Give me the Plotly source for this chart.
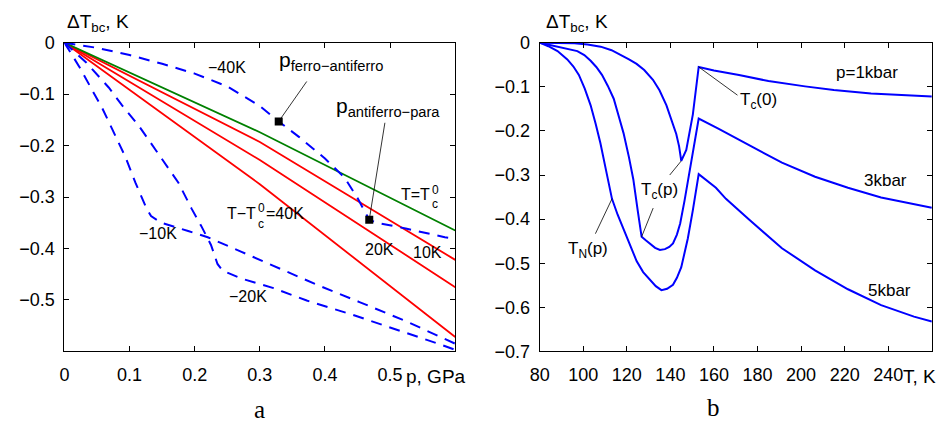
import plotly.graph_objects as go

W, H = 946, 428

# ---------------- panel a: dT_bc vs pressure ----------------
p_line = [0.0, 0.3, 0.6]
dT_tc0 = [0.0, -0.174, -0.365]      # T = Tc0
dT_p10 = [0.0, -0.193, -0.422]      # T - Tc0 = 10 K
dT_p20 = [0.0, -0.228, -0.475]      # T - Tc0 = 20 K
dT_p40 = [0.0, -0.275, -0.572]      # T - Tc0 = 40 K

p_m40 = [0, 0.05, 0.1, 0.15, 0.2, 0.25, 0.3, 0.329, 0.36, 0.4, 0.43, 0.45, 0.468, 0.48, 0.524, 0.584, 0.6]
dT_m40 = [0, -0.010, -0.024, -0.041, -0.060, -0.085, -0.123, -0.153, -0.183, -0.225, -0.262, -0.302, -0.344, -0.350, -0.361, -0.378, -0.381]

p_m10 = [0, 0.023, 0.043, 0.058, 0.073, 0.094, 0.109, 0.126, 0.133, 0.149, 0.19, 0.22, 0.271, 0.321, 0.387, 0.453, 0.524, 0.6]
dT_m10 = [0, -0.047, -0.093, -0.127, -0.167, -0.223, -0.272, -0.322, -0.337, -0.350, -0.366, -0.378, -0.406, -0.433, -0.470, -0.504, -0.541, -0.585]

p_m20 = [0, 0.033, 0.068, 0.088, 0.114, 0.134, 0.154, 0.175, 0.195, 0.21, 0.225, 0.235, 0.243, 0.271, 0.321, 0.372, 0.443, 0.503, 0.574, 0.6]
dT_m20 = [0, -0.038, -0.087, -0.121, -0.161, -0.198, -0.235, -0.272, -0.322, -0.356, -0.393, -0.430, -0.443, -0.458, -0.477, -0.501, -0.529, -0.554, -0.585, -0.597]

# transition points on the -40 K curve
p_trans = [0.329, 0.468]
dT_trans = [-0.153, -0.344]

xa_ticks = [0, 0.1, 0.2, 0.3, 0.4, 0.5]
xa_labels = ["0", "0.1", "0.2", "0.3", "0.4", "0.5"]
ya_ticks = [0, -0.1, -0.2, -0.3, -0.4, -0.5]
ya_labels = ["0", "\u22120.1", "\u22120.2", "\u22120.3", "\u22120.4", "\u22120.5"]

# ---------------- panel b: dT_bc vs temperature ----------------
T_1k = [80, 90, 96, 102, 108, 113, 117, 121, 124.5, 128, 132, 135, 138.2, 140.5, 142.7, 144, 145,
        147.3, 150.3, 153, 160, 171.5, 185, 201.8, 215, 232.1, 245, 260]
dT_1k = [0, -0.0005, -0.0015, -0.004, -0.009, -0.017, -0.027, -0.038, -0.048, -0.062, -0.084, -0.108,
         -0.142, -0.173, -0.207, -0.235, -0.268, -0.243, -0.163, -0.055, -0.063, -0.073, -0.087,
         -0.099, -0.107, -0.115, -0.119, -0.122]

T_3k = [80, 85, 88.2, 93, 97.3, 100.5, 103.4, 106, 108.6, 111.3, 114, 116.5, 118.5, 121, 123, 125,
        126.8, 128.7, 130.6, 133, 135.2, 137.5, 139.5, 141.2, 143, 144.5, 146.5, 148.8, 150.3, 151.7,
        153, 162, 173, 191.2, 206.4, 221.5, 236.7, 251.8, 260]
dT_3k = [0, -0.005, -0.009, -0.014, -0.019, -0.028, -0.041, -0.055, -0.073, -0.098, -0.127, -0.170,
         -0.205, -0.260, -0.310, -0.380, -0.440, -0.448, -0.455, -0.465, -0.470, -0.468, -0.463,
         -0.455, -0.435, -0.410, -0.358, -0.290, -0.250, -0.210, -0.172, -0.195, -0.224, -0.272,
         -0.304, -0.329, -0.351, -0.367, -0.374]

T_5k = [80, 84, 88.2, 92.7, 95.5, 98, 100.7, 103.4, 105.7, 107.9, 110.5, 113.2, 115.8, 118.5, 121.5,
        124.5, 127.5, 130.6, 133.3, 135.9, 138.5, 141.2, 143, 145, 148, 150.3, 151.1, 153, 160.9,
        165.5, 176.1, 191.2, 206.4, 221.5, 236.7, 251.8, 260]
dT_5k = [0, -0.008, -0.019, -0.038, -0.054, -0.073, -0.104, -0.142, -0.184, -0.228, -0.290, -0.354,
         -0.390, -0.423, -0.460, -0.495, -0.520, -0.538, -0.552, -0.561, -0.558, -0.549, -0.533,
         -0.509, -0.444, -0.380, -0.358, -0.298, -0.329, -0.354, -0.401, -0.466, -0.516, -0.559,
         -0.595, -0.621, -0.632]

xb_ticks = [80, 100, 120, 140, 160, 180, 200, 220, 240]
xb_labels = [str(v) for v in xb_ticks]
yb_ticks = [0, -0.1, -0.2, -0.3, -0.4, -0.5, -0.6, -0.7]
yb_labels = ["0"] + ["\u22120.%d" % k for k in range(1, 8)]

BLUE, RED, GREEN = "#0000ff", "#ff0000", "#008000"
FONT = "Liberation Sans, Arial, Helvetica, sans-serif"
SERIF = "Liberation Serif, Times New Roman, serif"


def px(x):
    return x / W


def py(y):
    return 1 - y / H


fig = go.Figure()

# panel a traces
for vals, col in [(dT_p40, RED), (dT_p20, RED), (dT_p10, RED), (dT_tc0, GREEN)]:
    fig.add_trace(go.Scatter(x=p_line, y=vals, mode="lines", line=dict(color=col, width=1.8),
                             xaxis="x", yaxis="y", showlegend=False, hoverinfo="skip"))
for xs, ys in [(p_m10, dT_m10), (p_m20, dT_m20), (p_m40, dT_m40)]:
    fig.add_trace(go.Scatter(x=xs, y=ys, mode="lines",
                             line=dict(color=BLUE, width=2, dash="11px,8px"),
                             xaxis="x", yaxis="y", showlegend=False, hoverinfo="skip"))
fig.add_trace(go.Scatter(x=p_trans, y=dT_trans, mode="markers",
                         marker=dict(symbol="square", size=8, color="black"),
                         xaxis="x", yaxis="y", showlegend=False, hoverinfo="skip"))

# panel b traces
for xs, ys in [(T_1k, dT_1k), (T_3k, dT_3k), (T_5k, dT_5k)]:
    fig.add_trace(go.Scatter(x=xs, y=ys, mode="lines", line=dict(color=BLUE, width=2),
                             xaxis="x2", yaxis="y2", showlegend=False, hoverinfo="skip"))

axis_common = dict(showline=True, linecolor="black", linewidth=1, mirror="allticks",
                   ticks="inside", ticklen=5, tickcolor="black", tickwidth=1,
                   showgrid=False, zeroline=False,
                   tickfont=dict(family=FONT, size=18, color="black"))

ytop, ybot = 34.3, 358.2
fig.update_layout(
    width=W, height=H,
    margin=dict(l=0, r=0, t=0, b=0),
    paper_bgcolor="white", plot_bgcolor="white",
    xaxis=dict(domain=[px(55), px(450)], range=[0, 0.6], tickvals=xa_ticks, ticktext=xa_labels,
               anchor="y", ticklabelstandoff=7, **axis_common),
    yaxis=dict(domain=[py(ybot), py(ytop)], range=[-0.6, 0], tickvals=ya_ticks, ticktext=ya_labels,
               anchor="x", ticklabelstandoff=5, **axis_common),
    xaxis2=dict(domain=[px(535.3), px(931.7)], range=[80, 260], tickvals=xb_ticks, ticktext=xb_labels,
                anchor="y2", ticklabelstandoff=7, **axis_common),
    yaxis2=dict(domain=[py(ybot), py(ytop)], range=[-0.7, 0], tickvals=yb_ticks, ticktext=yb_labels,
                anchor="x2", ticklabelstandoff=5, **axis_common),
)

anns = []


def label(text, x, y, xref, yref, size=16, xanchor="center", yanchor="middle", family=FONT):
    anns.append(dict(text=text, x=x, y=y, xref=xref, yref=yref, showarrow=False,
                     xanchor=xanchor, yanchor=yanchor,
                     font=dict(family=family, size=size, color="black")))


# axis titles and panel letters
label("\u0394T<sub>bc</sub>, K", px(56), py(14), "paper", "paper", size=19, xanchor="left")
label("\u0394T<sub>bc</sub>, K", px(540), py(14), "paper", "paper", size=19, xanchor="left")
label("p, GPa", px(398), py(384), "paper", "paper", size=19, xanchor="left")
label("T, K", px(901), py(384), "paper", "paper", size=19, xanchor="left")
label("a", px(252.5), py(419), "paper", "paper", size=25, family=SERIF)
label("b", px(711), py(417), "paper", "paper", size=25, family=SERIF)

# panel a curve labels
label("p<sub>ferro\u2212antiferro</sub>", 0.326, -0.036, "x", "y", size=21, xanchor="left")
label("p<sub>antiferro\u2212para</sub>", 0.414, -0.124, "x", "y", size=21, xanchor="left")
label("\u221240K", 0.249, -0.0476, "x", "y")
label("T=T", 0.5645, -0.2957, "x", "y", xanchor="right")
label("0", 0.5695, -0.2865, "x", "y", size=12)
label("c", 0.5695, -0.314, "x", "y", size=12)
label("T\u2212T", 0.2974, -0.3328, "x", "y", xanchor="right")
label("0", 0.3025, -0.3207, "x", "y", size=12)
label("c", 0.3025, -0.353, "x", "y", size=12)
label("=40K", 0.307, -0.3328, "x", "y", xanchor="left")
label("20K", 0.484, -0.401, "x", "y")
label("10K", 0.558, -0.407, "x", "y")
label("\u221210K", 0.143, -0.370, "x", "y")
label("\u221220K", 0.282, -0.494, "x", "y")

# panel b curve labels
label("p=1kbar", 230.3, -0.068, "x2", "y2", size=17)
label("T<sub>c</sub>(0)", 171.0, -0.133, "x2", "y2", size=17, xanchor="left")
label("3kbar", 238.5, -0.3125, "x2", "y2", size=17)
label("T<sub>c</sub>(p)", 125.5, -0.337, "x2", "y2", size=17, xanchor="left")
label("T<sub>N</sub>(p)", 92.0, -0.470, "x2", "y2", size=17, xanchor="left")
label("5kbar", 240.6, -0.561, "x2", "y2", size=17)

fig.update_layout(annotations=anns)

# leader lines from labels to the marked points
leaders = [
    ("x", "y", p_trans[0], dT_trans[0], 0.372, -0.0754),
    ("x", "y", p_trans[1], dT_trans[1], 0.492, -0.1556),
    ("x2", "y2", T_1k[19], dT_1k[19], 170.8, -0.119),
    ("x2", "y2", T_1k[16], dT_1k[16], 139.7, -0.300),
    ("x2", "y2", T_3k[16], dT_3k[16], 132.1, -0.375),
    ("x2", "y2", T_5k[11], dT_5k[11], 105.6, -0.433),
]
for xr, yr, x0, y0, x1, y1 in leaders:
    fig.add_shape(type="line", xref=xr, yref=yr, x0=x0, y0=y0, x1=x1, y1=y1,
                  line=dict(color="black", width=0.8))

fig.write_html("out.html")
